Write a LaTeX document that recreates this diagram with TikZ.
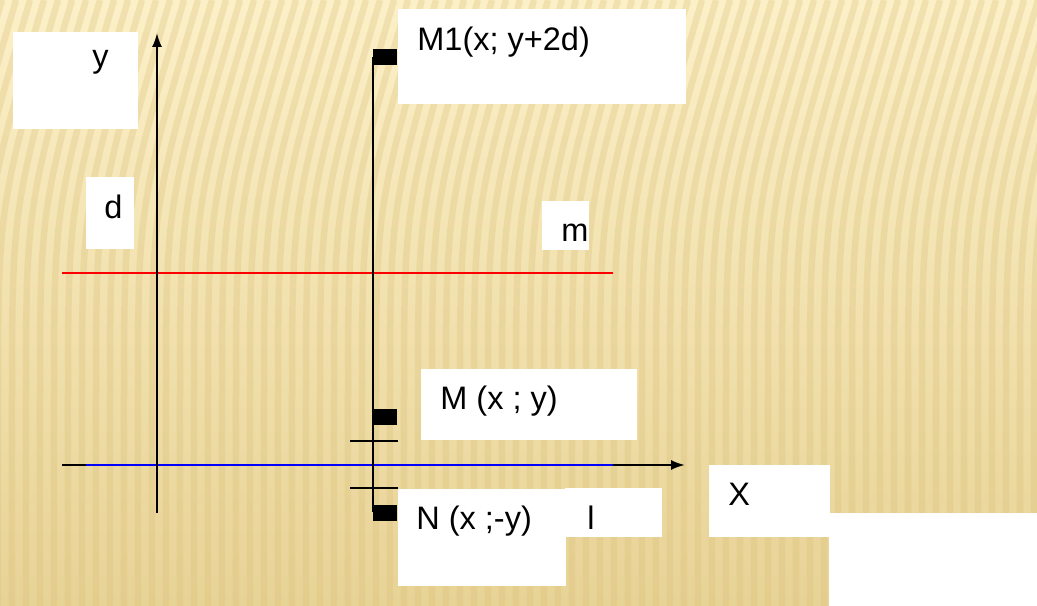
\documentclass[tikz,border=0pt]{standalone}
\usepackage{fontspec}
\setmainfont{Liberation Sans}
\usepackage{tikz}
\usetikzlibrary{arrows.meta, positioning}
\definecolor{bgtop}{HTML}{FCF0C8}
\definecolor{bgbot}{HTML}{E8D396}
\definecolor{stripecol}{HTML}{D9BF78}

\begin{document}
\begin{tikzpicture}[>={Latex[length=2.8mm,width=2mm]},
  axis/.style={black, line width=1.1pt},
  lblbox/.style={rectangle, fill=white, draw=none, inner sep=0pt, anchor=north west},
  lbl/.style={inner sep=0pt, anchor=base west, font=\fontsize{18.5}{22}\selectfont},
  pt/.style={rectangle, fill=black, inner sep=0pt, minimum width=0.48cm, minimum height=0.32cm, anchor=west},
  stripe/.style={stripecol, line width=0.13cm, opacity=0.3}]
\useasboundingbox (0,0) rectangle (20.74,12.12);
% background
\begin{scope}
\clip (0,0) rectangle (20.74,12.12);
\shade[top color=bgtop, bottom color=bgbot] (0,0) rectangle (20.74,12.12);
\foreach \s in {-2,-1.72,...,21}
  \draw[stripe] (\s,0) -- (\s,4) .. controls (\s,8) .. (\s+1.2,12.12);
\end{scope}
\fill[white] (16.58,0) rectangle (20.74,1.86);

% label boxes
\node[lblbox, minimum width=2.5cm, minimum height=1.94cm] (by) at (0.26,11.48) {};
\node[lblbox, minimum width=0.96cm, minimum height=1.44cm] (bd) at (1.72,8.58) {};
\node[lblbox, minimum width=0.94cm, minimum height=0.98cm] (bm) at (10.84,8.1) {};
\node[lblbox, minimum width=5.76cm, minimum height=1.9cm] (bM1) at (7.96,11.94) {};
\node[lblbox, minimum width=4.32cm, minimum height=1.42cm] (bM) at (8.42,4.74) {};
\node[lblbox, minimum width=3.36cm, minimum height=1.94cm] (bN) at (7.96,2.34) {};
\node[lblbox, minimum width=1.94cm, minimum height=0.98cm] (bl) at (11.3,2.36) {};
\node[lblbox, minimum width=2.42cm, minimum height=1.44cm] (bX) at (14.18,2.82) {};

% lines
\coordinate (xs) at (1.24,2.82);
\coordinate (xe) at (13.7,2.82);
\coordinate (bs) at (1.71,2.82);
\coordinate (be) at (12.26,2.82);
\coordinate (ys) at (3.14,1.86);
\coordinate (ye) at (3.14,11.46);
\coordinate (ms) at (1.24,6.66);
\coordinate (me) at (12.26,6.66);
\draw[axis, ->] (xs) -- (xe);
\draw[blue, line width=1.1pt] (bs) -- (be);
\draw[red, line width=1.5pt] (ms) -- (me);
\draw[axis, ->] (ys) -- (ye);

% points on the perpendicular
\coordinate (vt) at (7.46,10.98);
\coordinate (vb) at (7.46,1.88);
\draw[axis] (vt) -- (vb);
\node[pt] (pM1) at (7.46,10.98) {};
\node[pt] (pM) at (7.46,3.78) {};
\node[pt] (pN) at (7.46,1.86) {};
\coordinate (t1a) at (7.0,3.3);
\coordinate (t1b) at (7.96,3.3);
\coordinate (t2a) at (7.0,2.36);
\coordinate (t2b) at (7.96,2.36);
\draw[axis] (t1a) -- (t1b);
\draw[axis] (t2a) -- (t2b);

% texts
\node[lbl] (ty) at (1.84,10.76) {y};
\node[lbl] (td) at (2.08,7.74) {d};
\node[lbl] (tm) at (11.22,7.28) {m};
\node[lbl] (tM1) at (8.34,11.1) {M1(x; y+2d)};
\node[lbl] (tM) at (8.8,3.92) {M (x ; y)};
\node[lbl] (tN) at (8.32,1.52) {N (x ;-y)};
\node[lbl] (tl) at (11.74,1.52) {l};
\node[lbl] (tX) at (14.56,2.0) {X};
\end{tikzpicture}
\end{document}
